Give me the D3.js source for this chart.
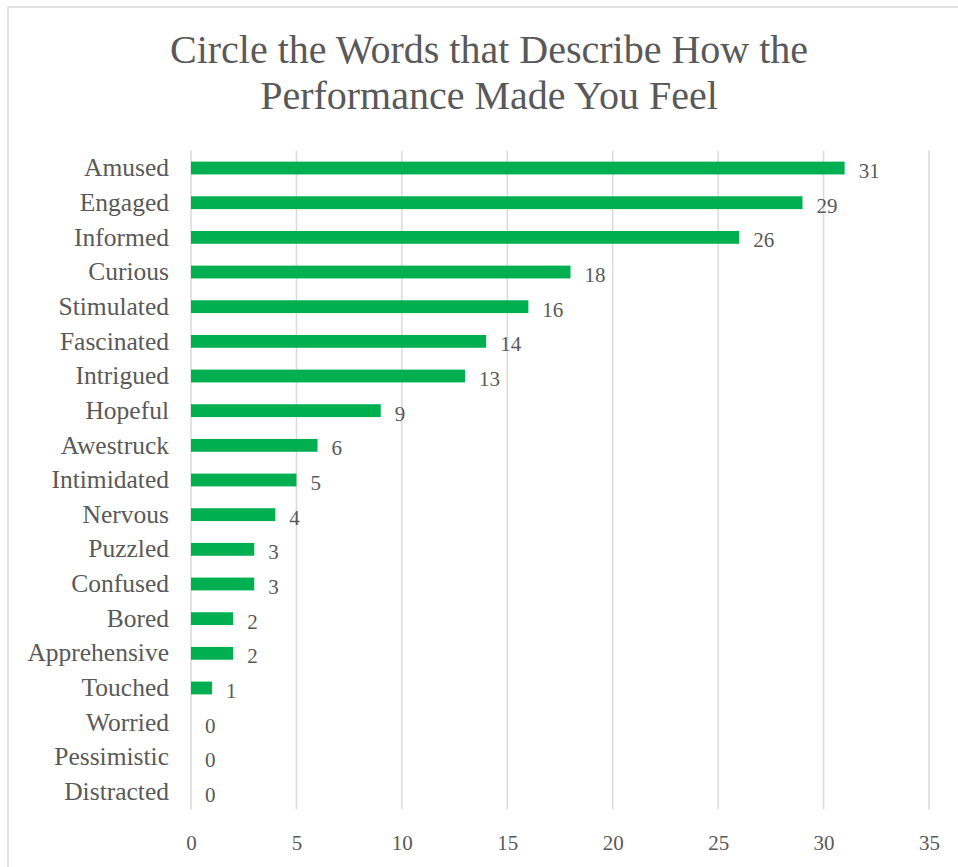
<!DOCTYPE html>
<html><head><meta charset="utf-8">
<script src="https://cdn.jsdelivr.net/npm/d3@7"></script>
<style>
html,body{margin:0;padding:0;background:#fff;}
svg{display:block;}
text{font-family:"Liberation Serif","DejaVu Serif",serif;fill:#595959;}
</style></head>
<body>
<script>
const categories = ["Amused","Engaged","Informed","Curious","Stimulated","Fascinated","Intrigued","Hopeful","Awestruck","Intimidated","Nervous","Puzzled","Confused","Bored","Apprehensive","Touched","Worried","Pessimistic","Distracted"];
const values = [31,29,26,18,16,14,13,9,6,5,4,3,3,2,2,1,0,0,0];
const xTicks = [0,5,10,15,20,25,30,35];
const titleLines = ["Circle the Words that Describe How the","Performance Made You Feel"];

const W = 958, H = 867;
const svg = d3.select("body").append("svg").attr("width", W).attr("height", H);

// chart border (left/top visible)
svg.append("rect").attr("x", 8).attr("y", 7).attr("width", W + 10).attr("height", H + 10)
  .attr("fill", "none").attr("stroke", "#d9d9d9").attr("stroke-width", 1.5);

const plot = {left: 191, right: 929, top: 150.7, bottom: 809.3};
const x = d3.scaleLinear().domain([0, 35]).range([plot.left, plot.right]);
const y = d3.scaleBand().domain(categories).range([plot.top, plot.bottom]).paddingInner(0.63).paddingOuter(0.315);

// title
svg.append("g").selectAll("text").data(titleLines).join("text")
  .attr("x", 489).attr("y", (d, i) => 63 + i * 46)
  .attr("text-anchor", "middle").attr("font-size", 40).text(d => d);

// gridlines
svg.append("g").selectAll("line").data(xTicks).join("line")
  .attr("x1", d => x(d)).attr("x2", d => x(d))
  .attr("y1", plot.top).attr("y2", plot.bottom)
  .attr("stroke", "#d9d9d9").attr("stroke-width", 1.5);

// x axis labels
const xAxis = d3.axisBottom(x).tickValues(xTicks).tickSize(0).tickPadding(0);
const gx = svg.append("g").attr("transform", `translate(0,${plot.bottom + 26})`).call(xAxis);
gx.select(".domain").remove();
gx.selectAll("text").attr("font-size", 21).attr("font-family", "Liberation Serif").attr("fill", "#595959");

// y axis labels
const yAxis = d3.axisLeft(y).tickSize(0).tickPadding(22);
const gy = svg.append("g").attr("transform", `translate(${plot.left},0)`).call(yAxis);
gy.select(".domain").remove();
gy.selectAll("text").attr("font-size", 25.5).attr("font-family", "Liberation Serif").attr("fill", "#595959");

// bars
svg.append("g").selectAll("rect").data(categories).join("rect")
  .attr("x", x(0)).attr("y", d => y(d))
  .attr("width", (d, i) => x(values[i]) - x(0))
  .attr("height", y.bandwidth()).attr("fill", "#00b050");

// value labels
svg.append("g").selectAll("text").data(categories).join("text")
  .attr("x", (d, i) => x(values[i]) + 14)
  .attr("y", d => y(d) + y.bandwidth() / 2 + 10)
  .attr("font-size", 21).attr("fill", "#404040").text((d, i) => values[i]);
</script>
</body></html>
